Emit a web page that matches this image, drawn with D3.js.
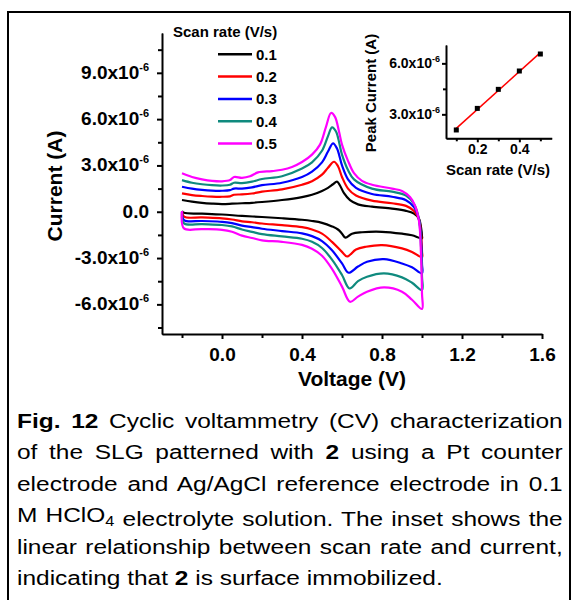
<!DOCTYPE html>
<html>
<head>
<meta charset="utf-8">
<script src="https://cdn.jsdelivr.net/npm/d3@7"></script>
<style>
  body { margin: 0; background: #fff; }
  svg { display: block; font-family: "Liberation Sans", Arial, sans-serif; }
</style>
</head>
<body>
<svg id="fig" width="579" height="600"></svg>
<script>
// scan rates (V/s) and their curve colours
const scanRates = ["0.1", "0.2", "0.3", "0.4", "0.5"];
const curveColors = ["#000000", "#ff0000", "#0000ff", "#0f8a7e", "#ff00ff"];

// CV loops: [voltage (V), current (x10^-6 A)], forward sweep then reverse sweep
const cv01 = [[-0.2,0.76],[-0.15,0.66],[-0.1,0.58],[-0.05,0.53],[0.0,0.5],[0.05,0.52],[0.1,0.55],[0.15,0.58],[0.2,0.63],[0.3,0.76],[0.4,0.95],[0.45,1.1],[0.5,1.35],[0.53,1.55],[0.555,1.78],[0.575,1.95],[0.59,1.7],[0.61,1.2],[0.64,0.75],[0.68,0.48],[0.75,0.33],[0.85,0.2],[0.92,0.06],[0.96,-0.12],[0.985,-0.45],[0.995,-1.0],[1.0,-1.6],
  [1.0,-1.72],[0.95,-1.52],[0.9,-1.42],[0.8,-1.3],[0.7,-1.33],[0.65,-1.42],[0.617,-1.68],[0.6,-1.42],[0.58,-1.15],[0.55,-0.95],[0.5,-0.72],[0.45,-0.6],[0.4,-0.52],[0.3,-0.42],[0.2,-0.34],[0.1,-0.27],[0.0,-0.18],[-0.1,-0.12],[-0.19,-0.07],[-0.2,0.05]];
const cv02 = [[-0.2,1.19],[-0.15,1.08],[-0.1,1.02],[-0.05,0.98],[0.0,0.97],[0.04,1.0],[0.06,1.1],[0.1,1.12],[0.15,1.18],[0.2,1.3],[0.3,1.45],[0.4,1.75],[0.45,1.98],[0.5,2.4],[0.53,2.85],[0.56,3.24],[0.58,2.95],[0.6,2.25],[0.63,1.5],[0.67,1.05],[0.75,0.72],[0.85,0.55],[0.92,0.38],[0.96,0.05],[0.985,-0.5],[0.995,-1.4],[1.0,-2.6],
  [1.0,-2.95],[0.95,-2.6],[0.9,-2.37],[0.8,-2.16],[0.72,-2.27],[0.67,-2.45],[0.625,-2.9],[0.6,-2.6],[0.55,-1.95],[0.5,-1.42],[0.45,-1.15],[0.4,-1.0],[0.3,-0.87],[0.2,-0.76],[0.15,-0.68],[0.1,-0.62],[0.05,-0.5],[0.0,-0.43],[-0.1,-0.37],[-0.19,-0.32],[-0.2,0.02]];
const cv03 = [[-0.2,1.62],[-0.15,1.5],[-0.1,1.42],[-0.05,1.37],[0.0,1.36],[0.04,1.4],[0.06,1.5],[0.1,1.5],[0.15,1.58],[0.2,1.72],[0.3,1.88],[0.4,2.25],[0.45,2.6],[0.5,3.2],[0.53,3.9],[0.555,4.43],[0.575,4.1],[0.6,3.0],[0.63,2.1],[0.67,1.55],[0.75,1.15],[0.85,0.97],[0.92,0.75],[0.96,0.3],[0.985,-0.5],[0.995,-1.8],[1.0,-3.4],
  [1.0,-3.99],[0.95,-3.6],[0.9,-3.35],[0.81,-3.07],[0.725,-3.24],[0.68,-3.55],[0.633,-3.95],[0.6,-3.35],[0.55,-2.5],[0.5,-1.9],[0.45,-1.58],[0.4,-1.4],[0.3,-1.25],[0.2,-1.1],[0.15,-1.0],[0.1,-0.9],[0.05,-0.74],[0.0,-0.65],[-0.1,-0.6],[-0.19,-0.54],[-0.2,0.0]];
const cv04 = [[-0.2,2.05],[-0.15,1.88],[-0.1,1.78],[-0.05,1.72],[0.0,1.7],[0.04,1.75],[0.06,1.88],[0.1,1.86],[0.15,1.95],[0.2,2.12],[0.3,2.3],[0.4,2.8],[0.45,3.2],[0.5,3.95],[0.53,4.9],[0.55,5.47],[0.57,5.2],[0.6,3.7],[0.63,2.7],[0.66,2.1],[0.75,1.5],[0.85,1.3],[0.92,1.05],[0.96,0.5],[0.985,-0.5],[0.995,-2.2],[1.0,-4.2],
  [1.0,-5.07],[0.95,-4.6],[0.9,-4.25],[0.81,-3.99],[0.725,-4.21],[0.68,-4.5],[0.638,-4.97],[0.6,-4.1],[0.55,-3.1],[0.5,-2.35],[0.45,-1.95],[0.4,-1.75],[0.3,-1.6],[0.2,-1.45],[0.15,-1.3],[0.1,-1.15],[0.05,-0.95],[0.0,-0.86],[-0.1,-0.8],[-0.19,-0.75],[-0.2,0.0]];
const cv05 = [[-0.2,2.49],[-0.15,2.25],[-0.1,2.1],[-0.05,2.0],[0.0,1.97],[0.04,2.05],[0.06,2.25],[0.1,2.2],[0.14,2.3],[0.18,2.55],[0.25,2.63],[0.3,2.72],[0.35,2.9],[0.4,3.22],[0.45,3.7],[0.49,4.35],[0.52,5.5],[0.545,6.4],[0.565,6.15],[0.585,5.2],[0.6,4.35],[0.63,3.3],[0.66,2.5],[0.7,2.0],[0.75,1.75],[0.85,1.5],[0.9,1.35],[0.94,0.95],[0.965,0.4],[0.985,-0.6],[0.995,-2.8],[1.0,-5.3],
  [1.0,-6.3],[0.95,-5.7],[0.9,-5.18],[0.81,-4.9],[0.725,-5.18],[0.68,-5.5],[0.64,-5.83],[0.6,-4.85],[0.55,-3.7],[0.5,-2.85],[0.45,-2.4],[0.4,-2.15],[0.3,-1.95],[0.2,-1.85],[0.15,-1.7],[0.1,-1.55],[0.05,-1.3],[0.0,-1.17],[-0.1,-1.12],[-0.19,-1.08],[-0.2,0.05]];
const cvLoops = [cv01, cv02, cv03, cv04, cv05];

// inset: anodic peak current (x10^-6 A) vs scan rate (V/s)
const peakRate = [0.1, 0.2, 0.3, 0.4, 0.5];
const peakCurrent = [2.08, 3.35, 4.47, 5.55, 6.55];

// tick values
const xTicks = [0, 0.4, 0.8, 1.2, 1.6];
const xMinor = [-0.2, 0.2, 0.6, 1.0, 1.4];
const yTicks = [-6, -3, 0, 3, 6, 9];
const yMinor = [-7.5, -4.5, -1.5, 1.5, 4.5, 7.5, 10.5];
const insetXTicks = [0.2, 0.4];
const insetXMinor = [0.1, 0.3, 0.5];
const insetYTicks = [3, 6];
const insetYMinor = [4.5];

// caption, one entry per printed line: [text, style]
const captionLines = [
  [["Fig. 12", "b"], [" Cyclic voltammetry (CV) characterization", ""]],
  [["of the SLG patterned with ", ""], ["2", "b"], [" using a Pt counter", ""]],
  [["electrode and Ag/AgCl reference electrode in 0.1", ""]],
  [["M HClO", ""], ["4", "sub"], [" electrolyte solution. The inset shows the", ""]],
  [["linear relationship between scan rate and current,", ""]],
  [["indicating that ", ""], ["2", "b"], [" is surface immobilized.", ""]]
];

const svg = d3.select("#fig");

// frame round the figure
svg.append("rect")
  .attr("x", 8).attr("y", 12)
  .attr("width", 562).attr("height", 600)
  .attr("fill", "none").attr("stroke", "#000").attr("stroke-width", 2);

// ---- main CV plot ----
const x = d3.scaleLinear().domain([-0.3, 1.6]).range([162, 542]);
const y = d3.scaleLinear().domain([-7.92, 11.58]).range([334, 33]);

function styleAxis(g, size) {
  g.select(".domain").attr("stroke-width", 2);
  g.selectAll(".tick line").attr("stroke-width", 2);
  g.selectAll("text")
    .attr("font-family", "Liberation Sans, Arial, sans-serif")
    .attr("font-size", size).attr("font-weight", "bold").attr("fill", "#000");
}

const gx = svg.append("g").attr("transform", "translate(0,334)");
gx.call(d3.axisBottom(x).tickValues(xTicks).tickSize(5).tickSizeOuter(0).tickPadding(9)
  .tickFormat(d => d.toFixed(1)));
gx.append("g").call(d3.axisBottom(x).tickValues(xMinor).tickSize(4).tickSizeOuter(0).tickFormat(""));
styleAxis(gx, 19);

const gy = svg.append("g").attr("transform", "translate(162,0)");
gy.call(d3.axisLeft(y).tickValues(yTicks).tickSize(5).tickSizeOuter(0).tickFormat(""));
gy.append("g").call(d3.axisLeft(y).tickValues(yMinor).tickSize(4).tickSizeOuter(0).tickFormat(""));
styleAxis(gy, 19);

// y tick labels like 9.0x10^-6
const yLab = svg.append("g")
  .attr("font-size", 19).attr("font-weight", "bold").attr("text-anchor", "end");
yTicks.forEach(v => {
  const t = yLab.append("text").attr("x", 149).attr("y", y(v) + 6);
  if (v === 0) { t.text("0.0"); return; }
  t.append("tspan").text(v.toFixed(1) + "x10");
  t.append("tspan").attr("dy", -8).attr("font-size", 11).text("-6");
});

svg.append("text")
  .attr("x", 352).attr("y", 386)
  .attr("text-anchor", "middle").attr("font-size", 21).attr("font-weight", "bold")
  .text("Voltage (V)");
svg.append("text")
  .attr("transform", "translate(62,186) rotate(-90)")
  .attr("text-anchor", "middle").attr("font-size", 21).attr("font-weight", "bold")
  .text("Current (A)");

// curves
const line = d3.line()
  .x(d => x(d[0]))
  .y(d => y(d[1]))
  .curve(d3.curveCatmullRom.alpha(0.5));

svg.append("g").selectAll("path")
  .data(cvLoops)
  .enter()
  .append("path")
    .attr("d", line)
    .attr("fill", "none")
    .attr("stroke", (d, i) => curveColors[i])
    .attr("stroke-width", 2.2)
    .attr("stroke-linejoin", "round");

// legend
const legend = svg.append("g").attr("font-weight", "bold");
legend.append("text").attr("x", 173).attr("y", 37).attr("font-size", 15).text("Scan rate (V/s)");
scanRates.forEach((r, i) => {
  const ly = 54.3 + i * 22.3;
  legend.append("line")
    .attr("x1", 218).attr("x2", 252).attr("y1", ly).attr("y2", ly)
    .attr("stroke", curveColors[i]).attr("stroke-width", 2.5);
  legend.append("text").attr("x", 256).attr("y", ly + 5.5).attr("font-size", 15).text(r);
});

// ---- inset ----
const xi = d3.scaleLinear().domain([0.051, 0.554]).range([446, 551.7]);
const yi = d3.scaleLinear().domain([1.59, 7.08]).range([138.3, 45]);

const gxi = svg.append("g").attr("transform", "translate(0,138.3)");
gxi.call(d3.axisBottom(xi).tickValues(insetXTicks).tickSize(4).tickSizeOuter(0).tickPadding(2)
  .tickFormat(d => d.toFixed(1)));
gxi.append("g").call(d3.axisBottom(xi).tickValues(insetXMinor).tickSize(3).tickSizeOuter(0).tickFormat(""));
styleAxis(gxi, 14);

const gyi = svg.append("g").attr("transform", "translate(446,0)");
gyi.call(d3.axisLeft(yi).tickValues(insetYTicks).tickSize(4).tickSizeOuter(0).tickFormat(""));
gyi.append("g").call(d3.axisLeft(yi).tickValues(insetYMinor).tickSize(3).tickSizeOuter(0).tickFormat(""));
styleAxis(gyi, 14);

const yiLab = svg.append("g")
  .attr("font-size", 14).attr("font-weight", "bold").attr("text-anchor", "end");
insetYTicks.forEach(v => {
  const t = yiLab.append("text").attr("x", 440).attr("y", yi(v) + 5);
  t.append("tspan").text(v.toFixed(1) + "x10");
  t.append("tspan").attr("dy", -6).attr("font-size", 9).text("-6");
});

svg.append("text")
  .attr("x", 498).attr("y", 175)
  .attr("text-anchor", "middle").attr("font-size", 15).attr("font-weight", "bold")
  .text("Scan rate (V/s)");
svg.append("text")
  .attr("transform", "translate(376,93) rotate(-90)")
  .attr("text-anchor", "middle").attr("font-size", 15).attr("font-weight", "bold")
  .text("Peak Current (A)");

// linear fit through the peak currents
const mx = d3.mean(peakRate), my = d3.mean(peakCurrent);
const slope = d3.sum(peakRate, (r, i) => (r - mx) * (peakCurrent[i] - my)) /
              d3.sum(peakRate, r => (r - mx) * (r - mx));
const fitEnds = d3.extent(peakRate);
svg.append("line")
  .attr("x1", xi(fitEnds[0])).attr("y1", yi(my + slope * (fitEnds[0] - mx)))
  .attr("x2", xi(fitEnds[1])).attr("y2", yi(my + slope * (fitEnds[1] - mx)))
  .attr("stroke", "#ff0000").attr("stroke-width", 1.5);

svg.append("g").selectAll("rect")
  .data(peakRate)
  .enter()
  .append("rect")
    .attr("x", d => xi(d) - 2.5)
    .attr("y", (d, i) => yi(peakCurrent[i]) - 2.5)
    .attr("width", 5).attr("height", 5)
    .attr("fill", "#000");

// ---- caption, justified between x=17 and x=563 ----
const capLeft = 17, capWidth = 546, capTop = 427.5, capStep = 31.5, lastWidth = 426;
const capLines = captionLines.map((segs, i) => {
  const t = svg.append("text")
    .attr("x", 0).attr("y", 0)
    .attr("font-size", 21).attr("fill", "#000");
  segs.forEach(s => {
    const ts = t.append("tspan").text(s[0]);
    if (s[1] === "b") ts.attr("font-weight", "bold");
    if (s[1] === "sub") ts.attr("font-size", 14).attr("dy", 4);
    if (s[1] === "sub") t.append("tspan").attr("dy", -4).text("");
  });
  return t;
});
// horizontal stretch of the caption face, taken from the unjustified last line
const lastNode = capLines[capLines.length - 1].node();
const k = lastWidth / lastNode.getComputedTextLength();
capLines.forEach((t, i) => {
  const full = captionLines[i].map(s => s[0]).join("");
  const nSpaces = (full.match(/ /g) || []).length;
  if (i < capLines.length - 1) {
    const natural = t.node().getComputedTextLength();
    t.attr("word-spacing", (capWidth / k - natural) / nSpaces);
  }
  t.attr("transform", `translate(${capLeft},${capTop + i * capStep}) scale(${k},1)`);
});
</script>
</body>
</html>
